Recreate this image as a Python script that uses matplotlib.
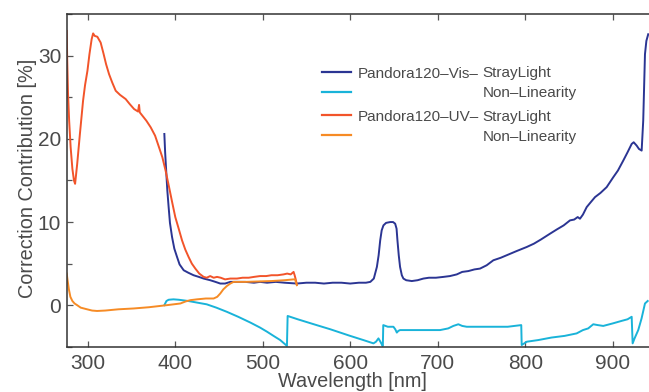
import matplotlib
matplotlib.use("Agg")
import matplotlib.pyplot as plt
from matplotlib.ticker import MultipleLocator

plt.rcParams['font.family'] = ['Liberation Sans', 'DejaVu Sans']

# ---- Pandora120 Vis: stray light correction [%] ----
vis_sl_nm = [387.6, 388.5, 389.9, 391, 392.5, 394, 396.4, 399, 402.1, 405, 409.7, 415, 421,
             427, 432.5, 440, 446, 451.5, 457, 463, 470, 480, 490, 497, 505, 515, 525, 539,
             550, 560, 570, 580, 590, 600, 610, 618, 623, 627, 630.5, 632.5, 634.3, 636, 638,
             641, 645.7, 649, 651.4, 653, 654, 655.5, 657, 659, 660.8, 664, 670.4, 677, 683.7,
             690, 698, 706.5, 714, 721.8, 728, 735, 742, 748.4, 756, 763.6, 772, 781, 790,
             801.8, 810, 818, 828.4, 836, 844, 851.2, 856, 860, 862.6, 866, 870.3, 875, 879.8,
             886, 893.1, 900.7, 906, 912.1, 917, 921.7, 924, 927.4, 930, 933.1, 934.9, 936.9,
             938.5, 940.6]
vis_sl_val = [20.6, 18.4, 15.8, 13.8, 11.8, 9.9, 8.2, 6.8, 5.8, 4.9, 4.2, 3.9, 3.6,
              3.4, 3.2, 3.0, 2.8, 2.6, 2.6, 2.8, 2.8, 2.8, 2.7, 2.8, 2.7, 2.8, 2.7, 2.6,
              2.7, 2.7, 2.6, 2.7, 2.7, 2.6, 2.7, 2.7, 2.8, 3.2, 4.6, 6.0, 7.8, 9.0, 9.6,
              9.9, 10.0, 10.0, 9.8, 9.2, 7.8, 6.0, 4.6, 3.6, 3.2, 3.0, 2.9, 3.0, 3.2,
              3.3, 3.3, 3.4, 3.5, 3.7, 4.0, 4.1, 4.3, 4.4, 4.8, 5.4, 5.7, 6.1, 6.5,
              7.0, 7.4, 7.9, 8.6, 9.1, 9.6, 10.2, 10.3, 10.6, 10.4, 10.9, 11.8, 12.4, 13.0,
              13.5, 14.2, 15.4, 16.2, 17.4, 18.4, 19.4, 19.6, 19.2, 18.8, 18.6, 22.2, 30.2,
              31.8, 32.6]

# ---- Pandora120 Vis: non-linearity correction [%] ----
vis_nl_nm = [387.6, 390, 392.5, 398, 404, 415, 428, 436, 447, 459, 472, 486, 497, 505,
             512.4, 520, 527.7, 528.5, 540, 560, 577.2, 600, 615, 626.6, 629.5, 632.3,
             634.5, 637, 637.3, 637.8, 643, 649.4, 651.5, 653.3, 655, 657, 670, 685, 702.7,
             712, 717.9, 723.6, 728, 733.2, 748.4, 765, 780, 795.5, 796, 801.8, 815, 830,
             845, 858.8, 866, 872, 877.8, 883, 889.2, 900, 910, 917, 921.7, 922.8, 925,
             929.2, 933, 936.9, 940]
vis_nl_val = [0.0, 0.5, 0.65, 0.7, 0.65, 0.5, 0.25, 0.1, -0.3, -0.8, -1.4, -2.1, -2.7, -3.2,
              -3.7, -4.2, -4.9, -1.3, -1.7, -2.35, -2.9, -3.7, -4.2, -4.6, -4.4, -4.0,
              -4.4, -4.9, -4.9, -2.4, -2.6, -2.6, -2.9, -3.3, -3.1, -3.0, -3.0, -3.0, -3.0,
              -2.8, -2.5, -2.3, -2.5, -2.6, -2.6, -2.6, -2.6, -2.4, -4.8, -4.4, -4.2, -3.9,
              -3.7, -3.4, -3.0, -2.8, -2.3, -2.4, -2.5, -2.2, -1.9, -1.7, -1.4, -4.6, -4.0,
              -3.0, -1.6, 0.2, 0.5]

# ---- Pandora120 UV: stray light correction [%] ----
uv_sl_nm = [276, 276.6, 277.5, 278.8, 280.5, 282.5, 284.3, 285.6, 288, 291, 294.7, 297,
            299.7, 302, 304.5, 306.2, 308, 311, 314.8, 318, 321, 324.4, 328, 332, 337,
            343.4, 348, 353, 356, 357.5, 358.7, 359.5, 362.5, 367, 372, 377, 381.5, 385.3,
            389, 393, 396.5, 400.1, 404, 407.8, 411.5, 415.3, 419, 423, 427.5, 432.5, 436,
            440, 444, 447.8, 452, 457, 463, 470.6, 477, 484, 490, 497, 504, 510, 517,
            523.8, 528, 532, 535.3, 536.5, 537.5, 539]
uv_sl_val = [33.0, 29.5, 25.5, 22.2, 19.0, 16.4, 15.0, 14.6, 17.0, 20.5, 24.6, 26.5,
             28.2, 30.2, 32.0, 32.7, 32.4, 32.3, 31.6, 30.3, 29.0, 27.8, 26.8, 25.8, 25.3,
             24.8, 24.2, 23.6, 23.4, 23.3, 24.1, 23.2, 22.8, 22.2, 21.4, 20.4, 19.0, 17.8,
             16.2, 14.2, 12.4, 10.6, 9.2, 7.8, 6.7, 5.8, 5.0, 4.4, 3.8, 3.4, 3.3,
             3.5, 3.3, 3.4, 3.3, 3.1, 3.2, 3.2, 3.3, 3.3, 3.4, 3.5, 3.5, 3.6, 3.6,
             3.7, 3.8, 3.7, 4.0, 3.6, 3.2, 2.5]

# ---- Pandora120 UV: non-linearity correction [%] ----
uv_nl_nm = [276, 277, 278.5, 280.2, 282.5, 285, 287.9, 292, 299.3, 305, 310.7, 320, 335,
            352.5, 370, 390.6, 405.9, 412, 417.3, 425, 435, 443.9, 448, 451.5, 455, 459,
            463, 466.7, 472, 480, 495, 510, 525, 535.2, 537, 539]
uv_nl_val = [3.8, 3.0, 1.9, 1.0, 0.5, 0.2, 0.0, -0.3, -0.5, -0.65, -0.7, -0.65, -0.5,
             -0.4, -0.25, 0.0, 0.2, 0.45, 0.6, 0.7, 0.8, 0.8, 1.0, 1.4, 1.9, 2.3,
             2.6, 2.8, 2.8, 2.8, 2.85, 2.9, 3.0, 3.1, 3.1, 2.4]

x_ticks = [300, 400, 500, 600, 700, 800, 900]
y_ticks = [0, 10, 20, 30]

C_VIS_SL = '#2b3593'
C_VIS_NL = '#19b3d9'
C_UV_SL = '#f2542a'
C_UV_NL = '#f68b25'
TXT = '#4a4a4a'

W, H = 649, 392
fig = plt.figure(figsize=(W / 100, H / 100), dpi=100)


def fx(px):
    return px / W


def fy(py):
    return 1 - py / H


ax_l, ax_t, ax_b = 66.7, 14.3, 346.7
ax = fig.add_axes([fx(ax_l), fy(ax_b), 1 - fx(ax_l), (ax_b - ax_t) / H])

lw = 1.4
ax.plot(vis_sl_nm, vis_sl_val, color=C_VIS_SL, lw=lw)
ax.plot(vis_nl_nm, vis_nl_val, color=C_VIS_NL, lw=lw)
ax.plot(uv_sl_nm, uv_sl_val, color=C_UV_SL, lw=lw)
ax.plot(uv_nl_nm, uv_nl_val, color=C_UV_NL, lw=lw)

ax.set_xlim(276, 941.5)
ax.set_ylim(-5, 35)
ax.set_xticks(x_ticks)
ax.set_yticks(y_ticks)
ax.yaxis.set_minor_locator(MultipleLocator(5))

for side in ['left', 'top', 'bottom']:
    ax.spines[side].set_color('#333333')
    ax.spines[side].set_linewidth(1.1)
ax.spines['right'].set_visible(False)

ax.tick_params(which='both', direction='in', top=True, right=False,
               color='#555555', width=0.9, labelcolor=TXT, labelsize=15)
ax.tick_params(which='major', length=4.5)
ax.tick_params(which='minor', length=3.5)
ax.tick_params(axis='x', pad=5)
ax.tick_params(axis='y', pad=4)

fig.text(fx(352.7), fy(387), 'Wavelength [nm]', ha='center', va='baseline',
         fontsize=14.3, color=TXT)
fig.text(fx(33), fy(178.5), 'Correction Contribution [%]', ha='center', va='baseline',
         rotation=90, rotation_mode='anchor', fontsize=14.3, color=TXT)

# legend block
rows = [(72, C_VIS_SL), (92, C_VIS_NL), (115, C_UV_SL), (135, C_UV_NL)]
for yy, c in rows:
    fig.add_artist(plt.Line2D([fx(322), fx(351)], [fy(yy), fy(yy)], color=c, lw=1.6))
lfs = 11
fig.text(fx(358), fy(77.5), 'Pandora120\u2013Vis\u2013', fontsize=lfs, color=TXT, va='baseline')
fig.text(fx(482), fy(77.5), 'StrayLight', fontsize=lfs, color=TXT, va='baseline')
fig.text(fx(483), fy(97.5), 'Non\u2013Linearity', fontsize=lfs, color=TXT, va='baseline')
fig.text(fx(358), fy(120.8), 'Pandora120\u2013UV\u2013', fontsize=lfs, color=TXT, va='baseline')
fig.text(fx(482), fy(120.8), 'StrayLight', fontsize=lfs, color=TXT, va='baseline')
fig.text(fx(483), fy(140.8), 'Non\u2013Linearity', fontsize=lfs, color=TXT, va='baseline')

fig.savefig('out.png', dpi=100)
